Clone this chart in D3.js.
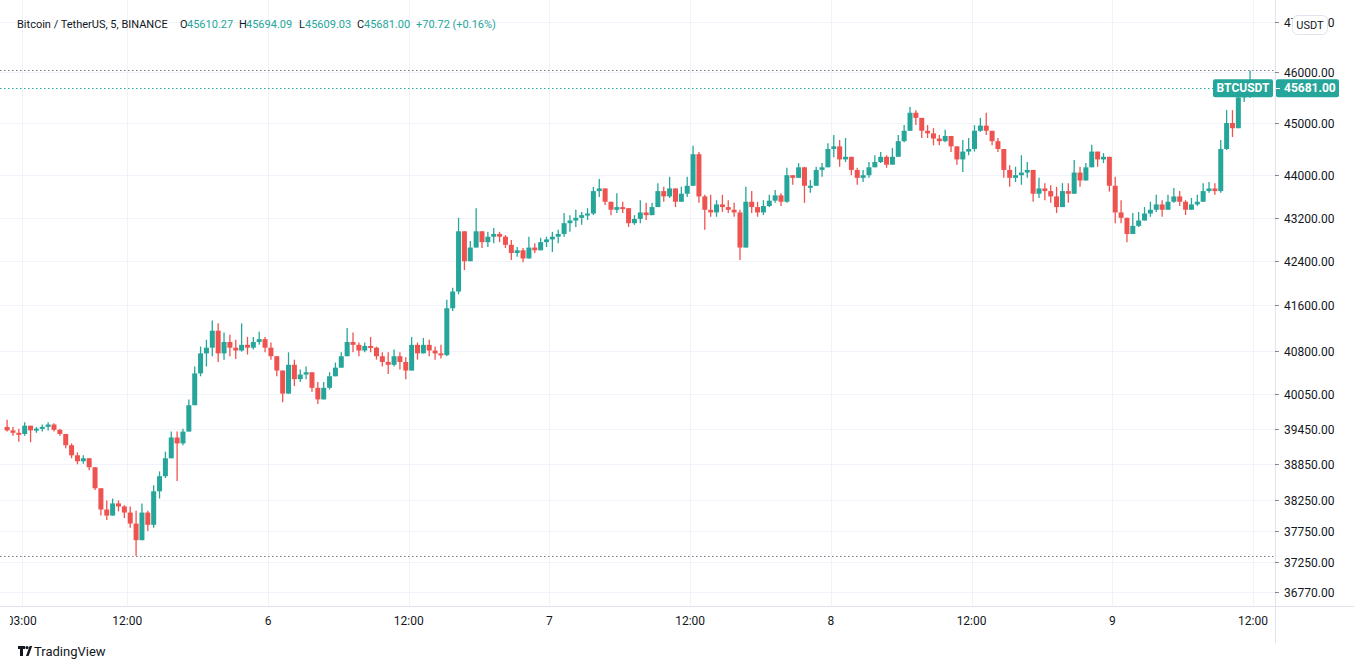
<!DOCTYPE html>
<html>
<head>
<meta charset="utf-8">
<script src="https://cdn.jsdelivr.net/npm/d3@7/dist/d3.min.js"></script>
<style>
  html, body { margin: 0; padding: 0; background: #ffffff; }
  svg { display: block; font-family: Roboto, "Noto Sans", "DejaVu Sans", sans-serif; }
</style>
</head>
<body>
<svg id="chart" width="1354" height="669"></svg>
<script>
// BTCUSDT, 30-minute candles (5 Dec 01:30 -> 9 Dec 12:00 UTC)
const candleStart = new Date(Date.UTC(2021, 11, 5, 1, 30))
const candleMinutes = 30
const firstOpen = 39480

const closes = [
  39420, 39380, 39360, 39500, 39420, 39450, 39480, 39520, 39430, 39360,
  39170, 39000, 38900, 38950, 38800, 38450, 38100, 38000, 38200, 38150,
  38050, 37870, 37600, 38050, 37850, 38400, 38650, 38950, 39300, 39200,
  39400, 39850, 40400, 40750, 40850, 41150, 40750, 40950, 40850, 40800,
  40900, 40850, 40950, 41000, 40850, 40700, 40450, 40050, 40550, 40300,
  40380, 40420, 40150, 39950, 40150, 40350, 40500, 40700, 40950, 40900,
  40800, 40880, 40850, 40700, 40600, 40550, 40700, 40600, 40450, 40900,
  40750, 40900, 40800, 40750, 40720, 41550, 41850, 42950, 42400, 42650,
  42950, 42750, 42850, 42900, 42850, 42700, 42550, 42600, 42450, 42650,
  42600, 42750, 42800, 42850, 42900, 43100, 43150, 43200, 43250, 43280,
  43700, 43750, 43500, 43350, 43400, 43380, 43100, 43180, 43300, 43250,
  43400, 43700, 43600, 43750, 43500, 43650, 43800, 44400, 43600, 43350,
  43300, 43450, 43400, 43350, 43300, 42650, 43500, 43400, 43300, 43420,
  43520, 43620, 43500, 44000, 43950, 44150, 43800, 43800, 44100, 44150,
  44500, 44550, 44300, 44350, 44100, 43950, 44000, 44150, 44250, 44350,
  44200, 44350, 44650, 44850, 45200, 45100, 44850, 44800, 44700, 44650,
  44750, 44550, 44300, 44450, 44500, 44850, 44950, 44850, 44650, 44500,
  44100, 43950, 44000, 44050, 44100, 43650, 43750, 43700, 43600, 43400,
  43700, 43650, 44050, 43900, 44150, 44450, 44300, 44350, 43800, 43300,
  43200, 42900, 43050, 43150, 43280, 43350, 43450, 43350, 43500, 43600,
  43500, 43350, 43450, 43500, 43700, 43750, 43700, 44500, 45000, 44900,
  45500, 45600, 45681
]

const highs = [
  39600, 39480, 39450, 39560, 39500, 39480, 39520, 39560, 39540, 39450,
  39300, 39200, 39050, 39000, 38930, 38720, 38330, 38250, 38280, 38250,
  38170, 38150, 38080, 38200, 38080, 38500, 38730, 39060, 39400, 39400,
  39450, 39950, 40520, 40870, 40990, 41330, 41280, 41120, 41080, 40990,
  41280, 41040, 41040, 41130, 41040, 40940, 40640, 40300, 40770, 40640,
  40470, 40520, 40350, 40250, 40250, 40420, 40590, 40770, 41200, 41120,
  40940, 40940, 41040, 40870, 40770, 40770, 40820, 40770, 40680, 41040,
  40940, 41020, 40990, 40870, 40900, 41700, 41920, 43200, 42750, 42770,
  43380, 42940, 42940, 43010, 42940, 42880, 42790, 42660, 42640, 42850,
  42730, 42830, 42850, 42940, 42980, 43290, 43250, 43350, 43310, 43380,
  43780, 43930, 43720, 43500, 43660, 43500, 43350, 43250, 43530, 43480,
  43480, 43850, 43780, 43970, 43720, 43780, 43970, 44560, 44440, 43630,
  43630, 43530, 43630, 43530, 43480, 43350, 43780, 43700, 43500, 43530,
  43630, 43720, 43660, 44140, 44000, 44230, 44160, 43910, 44160, 44230,
  44610, 44770, 44670, 44710, 44330, 44140, 44100, 44250, 44380, 44440,
  44380, 44520, 44770, 44960, 45310, 45250, 45100, 44960, 44900, 44770,
  44870, 44710, 44480, 44670, 44710, 44960, 45100, 45200, 44830, 44710,
  44440, 44190, 44160, 44380, 44250, 43870, 43950, 43850, 43810, 43780,
  43850, 43850, 44290, 44160, 44230, 44580, 44420, 44420, 44230, 43970,
  43530, 43160, 43290, 43310, 43400, 43500, 43630, 43530, 43630, 43760,
  43700, 43530, 43570, 43630, 43850, 43870, 43850, 44670, 45250, 45250,
  45650, 45650, 46030
]

const lows = [
  39400, 39330, 39230, 39330, 39220, 39380, 39400, 39420, 39400, 39330,
  39120, 38950, 38850, 38860, 38750, 38420, 38000, 37930, 38000, 38070,
  37960, 37800, 37350, 37750, 37750, 37800, 38280, 38620, 39060, 38570,
  39170, 39400, 39950, 40350, 40520, 40700, 40600, 40640, 40700, 40650,
  40780, 40730, 40820, 40900, 40770, 40640, 40350, 39900, 40080, 40180,
  40250, 40300, 40080, 39870, 40000, 40120, 40350, 40520, 40700, 40770,
  40700, 40770, 40770, 40640, 40520, 40390, 40520, 40470, 40300, 40640,
  40640, 40770, 40700, 40640, 40660, 40700, 41500, 41800, 42240, 42420,
  42790, 42640, 42660, 42730, 42750, 42640, 42420, 42480, 42380, 42550,
  42550, 42600, 42660, 42570, 42730, 42850, 42940, 43030, 43070, 43160,
  43250, 43590, 43440, 43250, 43290, 43290, 43030, 43070, 43100, 43160,
  43310, 43400, 43500, 43570, 43400, 43500, 43590, 43800, 43480, 42980,
  43220, 43220, 43310, 43290, 43220, 42420, 42660, 43290, 43220, 43250,
  43400, 43480, 43420, 43480, 43820, 43950, 43480, 43670, 43800, 43970,
  44150, 44340, 44160, 44250, 44000, 43820, 43870, 43950, 44160, 44230,
  44140, 44200, 44350, 44630, 44850, 44960, 44710, 44710, 44570, 44570,
  44630, 44440, 44200, 44060, 44380, 44450, 44830, 44770, 44570, 44440,
  43950, 43780, 43870, 43820, 43950, 43500, 43570, 43530, 43480, 43290,
  43400, 43480, 43650, 43780, 43900, 44150, 44160, 44230, 43690, 43100,
  43100, 42750, 42900, 43030, 43150, 43220, 43310, 43220, 43350, 43480,
  43420, 43250, 43350, 43420, 43500, 43670, 43630, 43670, 44480, 44730,
  44900, 45410, 45490
]

const priceTicks = [47000, 46000, 45000, 44000, 43200, 42400, 41600, 40800, 40050, 39450, 38850, 38250, 37750, 37250, 36770]

const timeTicks = [
  Date.UTC(2021, 11, 5, 3), Date.UTC(2021, 11, 5, 12), Date.UTC(2021, 11, 6, 0), Date.UTC(2021, 11, 6, 12),
  Date.UTC(2021, 11, 7, 0), Date.UTC(2021, 11, 7, 12), Date.UTC(2021, 11, 8, 0), Date.UTC(2021, 11, 8, 12),
  Date.UTC(2021, 11, 9, 0), Date.UTC(2021, 11, 9, 12)
]
const timeTickLabels = ["03:00", "12:00", "6", "12:00", "7", "12:00", "8", "12:00", "9", "12:00"]

const symbolTitle = "Bitcoin / TetherUS, 5, BINANCE"
const ohlcLegend = [["O", "45610.27"], ["H", "45694.09"], ["L", "45609.03"], ["C", "45681.00"]]
const changeText = "+70.72 (+0.16%)"
const lastPrice = 45681.00

const COLORS = {
  up:     "#26a69a",
  down:   "#ef5350",
  text:   "#131722",
  grid:   "#f0f3fa",
  border: "#e0e3eb",
  dots:   "#787b86",
}

const W = 1354
const PLOT_R = 1275, PLOT_B = 606, TIME_B = 643

const svg = d3.select("#chart")

const x = d3.scaleUtc()
  .domain([new Date(Date.UTC(2021, 11, 6, 0)), new Date(Date.UTC(2021, 11, 9, 12))])
  .range([268, 1253])
const y = d3.scaleLog().domain([36770, 46000]).range([592, 72])

// grid
const grid = svg.append("g")
grid.selectAll("line.h").data(priceTicks).join("line")
  .attr("x1", 0).attr("x2", PLOT_R)
  .attr("y1", d => Math.round(y(d)) + 0.5).attr("y2", d => Math.round(y(d)) + 0.5)
  .attr("stroke", COLORS.grid)
grid.selectAll("line.v").data(timeTicks).join("line")
  .attr("x1", d => Math.round(x(d)) + 0.5).attr("x2", d => Math.round(x(d)) + 0.5)
  .attr("y1", 0).attr("y2", PLOT_B)
  .attr("stroke", COLORS.grid)

// candles
const candles = closes.map((c, i) => ({
  t: d3.utcMinute.offset(candleStart, candleMinutes * i + candleMinutes / 2),
  o: i === 0 ? firstOpen : closes[i - 1],
  h: highs[i], l: lows[i], c
}))

const clip = svg.append("defs").append("clipPath").attr("id", "plotClip")
clip.append("rect").attr("x", 0).attr("y", 0).attr("width", PLOT_R).attr("height", PLOT_B)

const plot = svg.append("g").attr("clip-path", "url(#plotClip)")
const bw = 5

const cg = plot.append("g").selectAll("g").data(candles).join("g")
cg.append("line")
  .attr("x1", d => x(d.t)).attr("x2", d => x(d.t))
  .attr("y1", d => y(Math.max(d.h, d.o, d.c))).attr("y2", d => y(Math.min(d.l, d.o, d.c)))
  .attr("stroke", d => d.c >= d.o ? COLORS.up : COLORS.down)
  .attr("stroke-width", 1.3)
cg.append("rect")
  .attr("x", d => x(d.t) - bw / 2)
  .attr("y", d => y(Math.max(d.o, d.c)))
  .attr("width", bw)
  .attr("height", d => Math.max(2, Math.abs(y(d.o) - y(d.c))))
  .attr("fill", d => d.c >= d.o ? COLORS.up : COLORS.down)

// high / low / last price dotted lines
const maxHigh = d3.max(highs), minLow = d3.min(lows)
;[maxHigh, minLow].forEach(v => {
  plot.append("line")
    .attr("x1", 0).attr("x2", PLOT_R)
    .attr("y1", Math.round(y(v)) + 0.5).attr("y2", Math.round(y(v)) + 0.5)
    .attr("stroke", COLORS.dots).attr("stroke-dasharray", "1.5,2.5")
})
plot.append("line")
  .attr("x1", 0).attr("x2", 1213)
  .attr("y1", Math.round(y(lastPrice)) + 0.5).attr("y2", Math.round(y(lastPrice)) + 0.5)
  .attr("stroke", COLORS.up).attr("stroke-dasharray", "1.5,2.5")

// header legend
const head = svg.append("text").attr("y", 28).attr("font-size", "11px").attr("fill", COLORS.text)
head.append("tspan").attr("x", 17).text(symbolTitle)
const legendX = [[180, 187], [239, 246], [299, 305], [357, 364]]
ohlcLegend.forEach(([k, v], i) => {
  head.append("tspan").attr("x", legendX[i][0]).attr("fill", COLORS.text).text(k)
  head.append("tspan").attr("x", legendX[i][1]).attr("fill", COLORS.up).text(v)
})
head.append("tspan").attr("x", 416).attr("fill", COLORS.up).text(changeText)

// price axis
svg.append("line").attr("x1", PLOT_R + 0.5).attr("x2", PLOT_R + 0.5).attr("y1", 0).attr("y2", TIME_B)
  .attr("stroke", COLORS.border)
const pa = svg.append("g").selectAll("g").data(priceTicks).join("g")
  .attr("transform", d => `translate(${PLOT_R},${Math.round(y(d)) + 0.5})`)
pa.append("line").attr("x1", 0).attr("x2", 4).attr("stroke", COLORS.text).attr("stroke-opacity", 0.5)
pa.append("text").attr("x", 9).attr("dy", "0.35em")
  .attr("font-size", "12px").attr("fill", COLORS.text)
  .text(d => d3.format(".2f")(d))

// "USDT" currency badge, drawn over the top price label as in the original
svg.append("rect").attr("x", 1292.5).attr("y", 15.5).attr("width", 35).attr("height", 19).attr("rx", 5)
  .attr("fill", "#fff").attr("stroke", COLORS.border)
svg.append("text").attr("x", 1310).attr("y", 25).attr("dy", "0.35em").attr("text-anchor", "middle")
  .attr("font-size", "11px").attr("fill", COLORS.text).text("USDT")

// last price labels
const ly = y(lastPrice)
svg.append("rect").attr("x", 1213).attr("y", ly - 9).attr("width", 60).attr("height", 18).attr("rx", 2)
  .attr("fill", COLORS.up)
svg.append("text").attr("x", 1243).attr("y", ly).attr("dy", "0.35em").attr("text-anchor", "middle")
  .attr("font-size", "12px").attr("font-weight", "bold").attr("fill", "#fff").text("BTCUSDT")
svg.append("rect").attr("x", 1276).attr("y", ly - 9).attr("width", 63).attr("height", 18).attr("rx", 2)
  .attr("fill", COLORS.up)
svg.append("line").attr("x1", 1276).attr("x2", 1280).attr("y1", Math.round(ly) + 0.5).attr("y2", Math.round(ly) + 0.5)
  .attr("stroke", "#fff")
svg.append("text").attr("x", 1284).attr("y", ly).attr("dy", "0.35em")
  .attr("font-size", "12px").attr("font-weight", "bold").attr("fill", "#fff").text(d3.format(".2f")(lastPrice))

// time axis
svg.append("line").attr("x1", 0).attr("x2", W).attr("y1", PLOT_B + 0.5).attr("y2", PLOT_B + 0.5)
  .attr("stroke", COLORS.border)
svg.append("defs").append("clipPath").attr("id", "timeClip")
  .append("rect").attr("x", 10).attr("y", PLOT_B).attr("width", PLOT_R - 10).attr("height", 40)
svg.append("g").attr("clip-path", "url(#timeClip)")
  .selectAll("text").data(timeTicks).join("text")
  .attr("x", d => x(d)).attr("y", 621).attr("dy", "0.35em").attr("text-anchor", "middle")
  .attr("font-size", "12px").attr("fill", COLORS.text)
  .text((d, i) => timeTickLabels[i])

// TradingView mark
const logo = svg.append("g").attr("fill", COLORS.text)
logo.append("path").attr("d", "M18,646 h7 v3 h-2 v7 h-3 v-7 h-2 z")
logo.append("circle").attr("cx", 27).attr("cy", 647.6).attr("r", 1.6)
logo.append("path").attr("d", "M26,656 l3.6,-10 h2.6 l-3.6,10 z")
svg.append("text").attr("x", 34).attr("y", 651).attr("dy", "0.35em")
  .attr("font-size", "13px").attr("fill", COLORS.text).text("TradingView")
</script>
</body>
</html>
